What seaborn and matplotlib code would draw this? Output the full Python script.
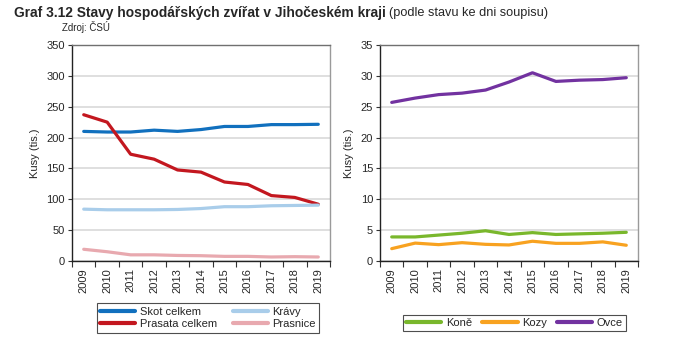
import numpy as np
import pandas as pd
import matplotlib
matplotlib.use("Agg")
import matplotlib.pyplot as plt
import seaborn as sns
from matplotlib.lines import Line2D

years = ["2009", "2010", "2011", "2012", "2013", "2014", "2015", "2016", "2017", "2018", "2019"]

skot = [210, 209, 209, 212, 210, 213, 218, 218, 221, 221, 221.5]
prasata = [237, 225, 173, 165, 147.5, 144, 128, 124, 106, 103, 92]
kravy = [84, 83, 83, 83, 83.5, 85, 88, 88, 89.5, 90, 90.5]
prasnice = [19, 15, 10, 10, 9, 8.6, 7.5, 7.5, 6.5, 7, 6.5]

kone = [3.9, 3.9, 4.2, 4.5, 4.9, 4.3, 4.6, 4.3, 4.4, 4.5, 4.65]
kozy = [2.0, 2.9, 2.65, 2.97, 2.7, 2.6, 3.2, 2.86, 2.86, 3.1, 2.55]
ovce = [25.7, 26.4, 26.96, 27.2, 27.7, 29.0, 30.5, 29.1, 29.3, 29.4, 29.7]

left_series = {"Skot celkem": skot, "Prasata celkem": prasata, "Krávy": kravy, "Prasnice": prasnice}
right_series = {"Koně": kone, "Kozy": kozy, "Ovce": ovce}

left_colors = {"Skot celkem": "#1170BE", "Prasata celkem": "#C3171F", "Krávy": "#A9CDEA", "Prasnice": "#E8A9AF"}
right_colors = {"Koně": "#79B72C", "Kozy": "#F8A220", "Ovce": "#7232A0"}

sns.set_theme(style="white")
plt.rcParams["font.family"] = ["Liberation Sans", "DejaVu Sans"]

fig = plt.figure(figsize=(6.83, 3.47), dpi=100)
axL = fig.add_axes([72/683, 86/347, 258/683, 216/347])
axR = fig.add_axes([380/683, 86/347, 258/683, 216/347])


def long_df(series):
    rows = []
    for name, vals in series.items():
        for i, (y, v) in enumerate(zip(years, vals)):
            rows.append({"pos": i, "Rok": y, "Serie": name, "Hodnota": v})
    return pd.DataFrame(rows)


def style_ax(ax, ymax, step):
    ax.set_xlim(-0.5, len(years) - 0.5)
    ax.set_ylim(0, ymax)
    ticks = np.arange(0, ymax + step / 2, step)
    ax.set_yticks(ticks)
    ax.set_yticklabels([str(int(v)) for v in ticks], fontsize=8)
    ax.set_xticks(range(len(years)))
    ax.set_xticklabels(years, rotation=90, fontsize=8)
    ax.set_xticks(np.arange(-0.5, len(years), 1.0), minor=True)
    ax.tick_params(axis="x", which="major", length=0, pad=5)
    ax.tick_params(axis="x", which="minor", length=4, width=0.8, color="#333333", direction="out", bottom=True)
    ax.tick_params(axis="y", which="major", length=3, width=0.8, color="#333333", direction="out", left=True, pad=2)
    ax.yaxis.grid(True, color="#D9D9D9", linewidth=1.2)
    ax.set_axisbelow(True)
    ax.spines["left"].set_color("#222222")
    ax.spines["bottom"].set_color("#222222")
    ax.spines["top"].set_color("#707070")
    ax.spines["right"].set_color("#9A9A9A")
    for s in ax.spines.values():
        s.set_linewidth(1.0)
    ax.set_xlabel("")
    ax.set_ylabel("Kusy (tis.)", fontsize=8, labelpad=5)


dfL = long_df(left_series)
sns.lineplot(data=dfL, x="pos", y="Hodnota", hue="Serie", palette=left_colors,
             linewidth=2.3, ax=axL, legend=False)
style_ax(axL, 350, 50)

dfR = long_df(right_series)
sns.lineplot(data=dfR, x="pos", y="Hodnota", hue="Serie", palette=right_colors,
             linewidth=2.3, ax=axR, legend=False)
style_ax(axR, 35, 5)

hL = [Line2D([], [], color=left_colors[n], lw=3) for n in left_series]
legL = fig.legend(hL, list(left_series), loc="center", bbox_to_anchor=(208/683, 1 - 318/347),
                  ncol=2, fontsize=8, frameon=True, fancybox=False, edgecolor="#222222",
                  handlelength=3.2, handletextpad=0.4, columnspacing=1.4, borderpad=0.3,
                  labelspacing=0.25)
legL.get_frame().set_linewidth(0.8)

hR = [Line2D([], [], color=right_colors[n], lw=3) for n in right_series]
legR = fig.legend(hR, list(right_series), loc="center", bbox_to_anchor=(514.5/683, 1 - 323/347),
                  ncol=3, fontsize=8, frameon=True, fancybox=False, edgecolor="#222222",
                  handlelength=3.2, handletextpad=0.4, columnspacing=0.9, borderpad=0.3)
legR.get_frame().set_linewidth(0.8)

t1 = fig.text(14/683, 1 - 13/347, "Graf 3.12 Stavy hospodářských zvířat v Jihočeském kraji",
              fontsize=9.9, fontweight="bold", va="center", ha="left")
fig.canvas.draw()
bb = t1.get_window_extent(renderer=fig.canvas.get_renderer())
fig.text(bb.x1 / (6.83 * 100) + 3/683, 1 - 13/347, "(podle stavu ke dni soupisu)",
         fontsize=9.2, va="center", ha="left")
fig.text(62/683, 1 - 27/347, "Zdroj: ČSÚ", fontsize=7, va="center", ha="left")

fig.savefig("out.png", dpi=100)
